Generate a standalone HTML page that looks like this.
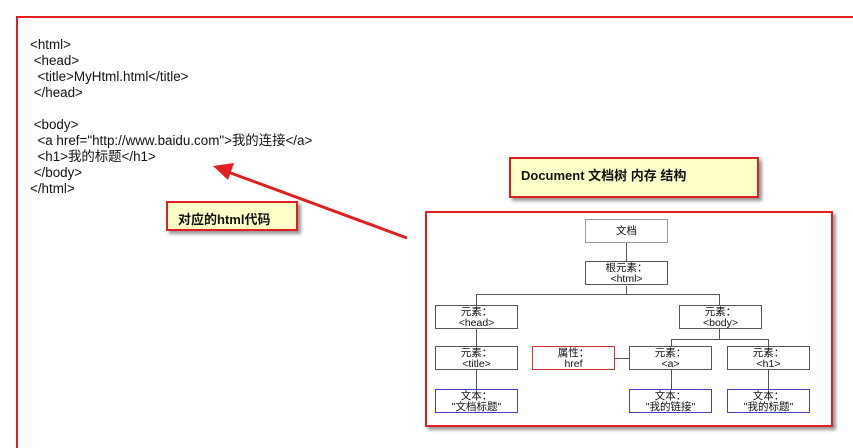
<!DOCTYPE html>
<html style="overflow:hidden"><head><meta charset="utf-8"><style>
html,body{margin:0;width:853px;height:448px;overflow:hidden}
body{background:#fff;position:relative;font-family:"Liberation Sans","Noto Sans CJK SC",sans-serif}
.frame{position:absolute;left:16px;top:16px;width:837px;height:432px;border:2px solid #e02020;border-right:none;border-bottom:none;box-sizing:border-box}
.code{position:absolute;left:30px;top:37px;font-size:13.4px;line-height:16px;color:#111;white-space:pre}
.note{position:absolute;background:#ffffc8;border:2px solid #e02020;box-shadow:3px 3px 3px #999;font-weight:bold;font-size:13px;color:#111;box-sizing:border-box}
.tree{position:absolute;left:425px;top:211px;width:408px;height:216px;border:2px solid #e02020;box-sizing:border-box;box-shadow:3px 3px 3px #999;background:#fff}
.n{position:absolute;z-index:2;width:83px;height:24px;border:1px solid #555;box-sizing:border-box;font-size:10.5px;line-height:11px;text-align:center;background:#fff;color:#111;padding-top:1px}
.ln{position:absolute;z-index:1;background:#555}
</style></head><body>
<div class="frame"></div>
<div class="code">&lt;html&gt;
 &lt;head&gt;
  &lt;title&gt;MyHtml.html&lt;/title&gt;
 &lt;/head&gt;

 &lt;body&gt;
  &lt;a href="http://www.baidu.com"&gt;我的连接&lt;/a&gt;
  &lt;h1&gt;我的标题&lt;/h1&gt;
 &lt;/body&gt;
&lt;/html&gt;</div>
<div class="note" style="left:166px;top:201px;width:132px;height:30px;padding:6px 0 0 10px">对应的html代码</div>
<div class="note" style="left:509px;top:157px;width:250px;height:41px;padding:6px 0 0 10px">Document 文档树 内存 结构</div>
<svg style="position:absolute;left:0;top:0" width="853" height="448">
<line x1="407" y1="238" x2="228" y2="172" stroke="#e02020" stroke-width="3"/>
<polygon points="213,166 234,163 228,180" fill="#e02020"/>
</svg>
<div class="tree"></div>
<div class="ln" style="left:626px;top:243px;width:1px;height:18px"></div>
<div class="ln" style="left:626px;top:286px;width:1px;height:8px"></div>
<div class="ln" style="left:476px;top:294px;width:244px;height:1px"></div>
<div class="ln" style="left:476px;top:294px;width:1px;height:11px"></div>
<div class="ln" style="left:719px;top:294px;width:1px;height:11px"></div>
<div class="ln" style="left:476px;top:329px;width:1px;height:17px"></div>
<div class="ln" style="left:476px;top:370px;width:1px;height:19px"></div>
<div class="ln" style="left:719px;top:329px;width:1px;height:10px"></div>
<div class="ln" style="left:671px;top:339px;width:98px;height:1px"></div>
<div class="ln" style="left:671px;top:339px;width:1px;height:7px"></div>
<div class="ln" style="left:768px;top:339px;width:1px;height:7px"></div>
<div class="ln" style="left:671px;top:370px;width:1px;height:19px"></div>
<div class="ln" style="left:768px;top:370px;width:1px;height:19px"></div>
<div class="ln" style="left:615px;top:358px;width:14px;height:1px"></div>
<div class="n" style="left:585px;top:219px;border-color:#999;line-height:20px">文档</div>
<div class="n" style="left:585px;top:261px">根元素：<br>&lt;html&gt;</div>
<div class="n" style="left:435px;top:305px">元素：<br>&lt;head&gt;</div>
<div class="n" style="left:679px;top:305px">元素：<br>&lt;body&gt;</div>
<div class="n" style="left:435px;top:346px">元素：<br>&lt;title&gt;</div>
<div class="n" style="left:532px;top:346px;border-color:#d03030">属性：<br>href</div>
<div class="n" style="left:629px;top:346px">元素：<br>&lt;a&gt;</div>
<div class="n" style="left:727px;top:346px">元素：<br>&lt;h1&gt;</div>
<div class="n" style="left:435px;top:389px;border-color:#4040c0">文本：<br>"文档标题"</div>
<div class="n" style="left:629px;top:389px;border-color:#4040c0">文本：<br>"我的链接"</div>
<div class="n" style="left:727px;top:389px;border-color:#4040c0">文本：<br>"我的标题"</div>
</body></html>
